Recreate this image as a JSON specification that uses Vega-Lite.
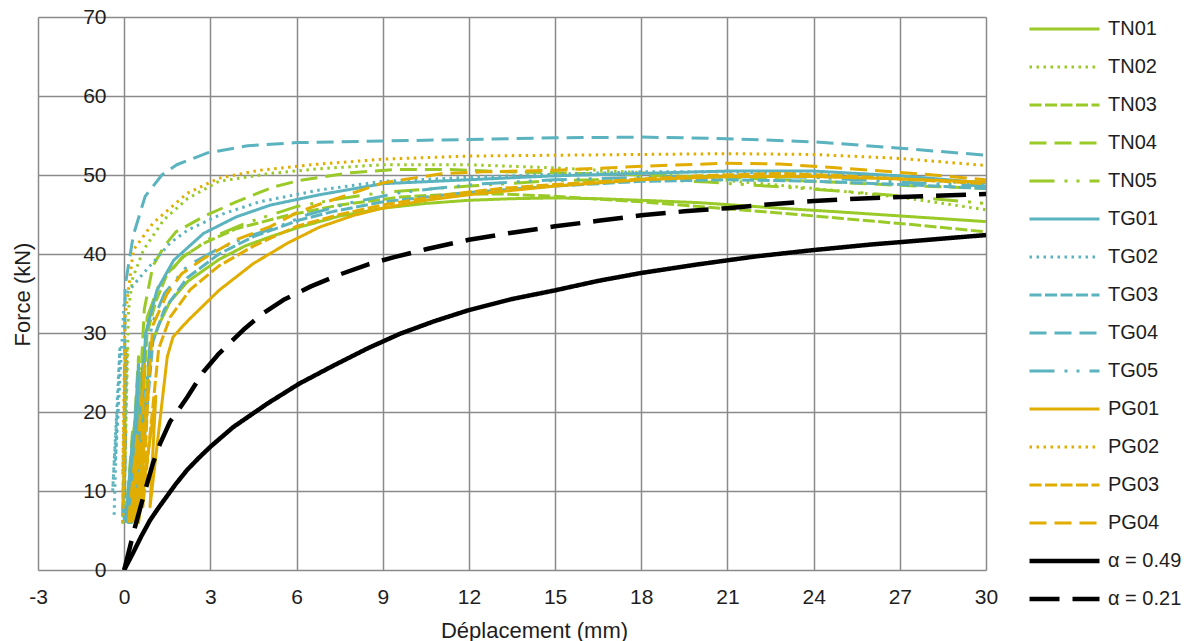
{
 "$schema": "https://vega.github.io/schema/vega-lite/v6.json",
 "width": 948, "height": 553,
 "autosize": {"type": "none"},
 "padding": {"left": 38, "top": 17, "right": 209, "bottom": 71},
 "background": "white",
 "config": {"view": {"stroke": null}, "font": "Liberation Sans"},
 "data": {"values": [
{"s":"TN01","i":0,"x":0.1,"y":6},{"s":"TN01","i":1,"x":0.4,"y":16},{"s":"TN01","i":2,"x":0.25,"y":6},{"s":"TN01","i":3,"x":0.6,"y":24},{"s":"TN01","i":4,"x":0.45,"y":7},{"s":"TN01","i":5,"x":0.9,"y":28},{"s":"TN01","i":6,"x":1.2,"y":31},{"s":"TN01","i":7,"x":1.6,"y":34},{"s":"TN01","i":8,"x":2.2,"y":36.5},{"s":"TN01","i":9,"x":3.3,"y":39.3},{"s":"TN01","i":10,"x":4.2,"y":41},{"s":"TN01","i":11,"x":5.1,"y":42.2},{"s":"TN01","i":12,"x":6.1,"y":43.4},{"s":"TN01","i":13,"x":7.5,"y":44.8},{"s":"TN01","i":14,"x":9,"y":45.8},{"s":"TN01","i":15,"x":10.5,"y":46.4},{"s":"TN01","i":16,"x":12,"y":46.8},{"s":"TN01","i":17,"x":13.5,"y":47},{"s":"TN01","i":18,"x":15,"y":47.1},{"s":"TN01","i":19,"x":16.5,"y":47},{"s":"TN01","i":20,"x":18,"y":46.8},{"s":"TN01","i":21,"x":20,"y":46.5},{"s":"TN01","i":22,"x":22.8,"y":45.8},{"s":"TN01","i":23,"x":25,"y":45.3},{"s":"TN01","i":24,"x":27.5,"y":44.7},{"s":"TN01","i":25,"x":30,"y":44.1},
{"s":"TN02","i":0,"x":-0.05,"y":6},{"s":"TN02","i":1,"x":0.05,"y":18},{"s":"TN02","i":2,"x":-0.05,"y":6},{"s":"TN02","i":3,"x":0.1,"y":28},{"s":"TN02","i":4,"x":0,"y":8},{"s":"TN02","i":5,"x":0.15,"y":33},{"s":"TN02","i":6,"x":0.3,"y":37},{"s":"TN02","i":7,"x":0.67,"y":40.5},{"s":"TN02","i":8,"x":1.37,"y":44.3},{"s":"TN02","i":9,"x":2.2,"y":47},{"s":"TN02","i":10,"x":3.3,"y":49.2},{"s":"TN02","i":11,"x":5.1,"y":50.2},{"s":"TN02","i":12,"x":6.8,"y":50.8},{"s":"TN02","i":13,"x":9,"y":51.3},{"s":"TN02","i":14,"x":12,"y":51.3},{"s":"TN02","i":15,"x":15,"y":50.9},{"s":"TN02","i":16,"x":18,"y":50.3},{"s":"TN02","i":17,"x":21,"y":49.3},{"s":"TN02","i":18,"x":24,"y":48.3},{"s":"TN02","i":19,"x":27,"y":47.2},{"s":"TN02","i":20,"x":30,"y":45.6},
{"s":"TN03","i":0,"x":0.1,"y":6},{"s":"TN03","i":1,"x":0.35,"y":17},{"s":"TN03","i":2,"x":0.2,"y":6},{"s":"TN03","i":3,"x":0.55,"y":25},{"s":"TN03","i":4,"x":0.4,"y":7},{"s":"TN03","i":5,"x":0.8,"y":30},{"s":"TN03","i":6,"x":1.1,"y":34},{"s":"TN03","i":7,"x":1.5,"y":37.5},{"s":"TN03","i":8,"x":2.1,"y":39.8},{"s":"TN03","i":9,"x":2.8,"y":41.4},{"s":"TN03","i":10,"x":3.9,"y":43.2},{"s":"TN03","i":11,"x":5.7,"y":44.9},{"s":"TN03","i":12,"x":7.5,"y":46.2},{"s":"TN03","i":13,"x":9.6,"y":47.2},{"s":"TN03","i":14,"x":11.5,"y":47.6},{"s":"TN03","i":15,"x":13.1,"y":47.6},{"s":"TN03","i":16,"x":15,"y":47.3},{"s":"TN03","i":17,"x":18,"y":46.6},{"s":"TN03","i":18,"x":20,"y":46},{"s":"TN03","i":19,"x":22.8,"y":45.2},{"s":"TN03","i":20,"x":25,"y":44.5},{"s":"TN03","i":21,"x":27.5,"y":43.7},{"s":"TN03","i":22,"x":30,"y":42.8},
{"s":"TN04","i":0,"x":0.05,"y":6},{"s":"TN04","i":1,"x":0.3,"y":18},{"s":"TN04","i":2,"x":0.15,"y":6},{"s":"TN04","i":3,"x":0.5,"y":27},{"s":"TN04","i":4,"x":0.35,"y":8},{"s":"TN04","i":5,"x":0.7,"y":33},{"s":"TN04","i":6,"x":1,"y":38.5},{"s":"TN04","i":7,"x":1.4,"y":41},{"s":"TN04","i":8,"x":1.8,"y":42.8},{"s":"TN04","i":9,"x":2.8,"y":44.8},{"s":"TN04","i":10,"x":3.9,"y":46.6},{"s":"TN04","i":11,"x":5.2,"y":48.5},{"s":"TN04","i":12,"x":6.1,"y":49.3},{"s":"TN04","i":13,"x":7.9,"y":50.3},{"s":"TN04","i":14,"x":9.4,"y":50.7},{"s":"TN04","i":15,"x":11.3,"y":50.7},{"s":"TN04","i":16,"x":13.3,"y":50.4},{"s":"TN04","i":17,"x":15,"y":50.3},{"s":"TN04","i":18,"x":18,"y":50},{"s":"TN04","i":19,"x":21,"y":49.7},{"s":"TN04","i":20,"x":24,"y":49.2},{"s":"TN04","i":21,"x":27,"y":48.7},{"s":"TN04","i":22,"x":30,"y":48.3},
{"s":"TN05","i":0,"x":0.1,"y":6},{"s":"TN05","i":1,"x":0.35,"y":18},{"s":"TN05","i":2,"x":0.2,"y":7},{"s":"TN05","i":3,"x":0.55,"y":26},{"s":"TN05","i":4,"x":0.4,"y":8},{"s":"TN05","i":5,"x":0.8,"y":32},{"s":"TN05","i":6,"x":1.2,"y":36},{"s":"TN05","i":7,"x":2,"y":39.5},{"s":"TN05","i":8,"x":3,"y":42},{"s":"TN05","i":9,"x":4.3,"y":44},{"s":"TN05","i":10,"x":6,"y":46},{"s":"TN05","i":11,"x":7.5,"y":47},{"s":"TN05","i":12,"x":9,"y":47.8},{"s":"TN05","i":13,"x":12,"y":48.6},{"s":"TN05","i":14,"x":15,"y":49.3},{"s":"TN05","i":15,"x":18,"y":49.5},{"s":"TN05","i":16,"x":20.3,"y":49.1},{"s":"TN05","i":17,"x":22.8,"y":48.5},{"s":"TN05","i":18,"x":25.2,"y":47.9},{"s":"TN05","i":19,"x":27.5,"y":47.2},{"s":"TN05","i":20,"x":30,"y":46.4},
{"s":"TG01","i":0,"x":0.05,"y":6},{"s":"TG01","i":1,"x":0.3,"y":17},{"s":"TG01","i":2,"x":0.15,"y":6},{"s":"TG01","i":3,"x":0.5,"y":26},{"s":"TG01","i":4,"x":0.35,"y":7},{"s":"TG01","i":5,"x":0.75,"y":30},{"s":"TG01","i":6,"x":1.14,"y":35.4},{"s":"TG01","i":7,"x":1.72,"y":39.2},{"s":"TG01","i":8,"x":2.76,"y":42.6},{"s":"TG01","i":9,"x":3.9,"y":44.7},{"s":"TG01","i":10,"x":5.1,"y":46.2},{"s":"TG01","i":11,"x":6.8,"y":47.5},{"s":"TG01","i":12,"x":9,"y":48.9},{"s":"TG01","i":13,"x":12,"y":49.4},{"s":"TG01","i":14,"x":15,"y":49.9},{"s":"TG01","i":15,"x":18,"y":50.2},{"s":"TG01","i":16,"x":21,"y":50.5},{"s":"TG01","i":17,"x":24,"y":50.5},{"s":"TG01","i":18,"x":27,"y":49.9},{"s":"TG01","i":19,"x":30,"y":49},
{"s":"TG02","i":0,"x":-0.35,"y":7},{"s":"TG02","i":1,"x":-0.25,"y":20},{"s":"TG02","i":2,"x":-0.4,"y":10},{"s":"TG02","i":3,"x":-0.15,"y":28},{"s":"TG02","i":4,"x":-0.3,"y":14},{"s":"TG02","i":5,"x":0,"y":34},{"s":"TG02","i":6,"x":0.09,"y":35},{"s":"TG02","i":7,"x":0.56,"y":37.1},{"s":"TG02","i":8,"x":1.6,"y":41.4},{"s":"TG02","i":9,"x":2.2,"y":43},{"s":"TG02","i":10,"x":3.3,"y":44.9},{"s":"TG02","i":11,"x":4.7,"y":46.6},{"s":"TG02","i":12,"x":6.8,"y":48.1},{"s":"TG02","i":13,"x":9,"y":49.2},{"s":"TG02","i":14,"x":12,"y":49.7},{"s":"TG02","i":15,"x":15,"y":50.1},{"s":"TG02","i":16,"x":18,"y":50.4},{"s":"TG02","i":17,"x":21,"y":50.4},{"s":"TG02","i":18,"x":24,"y":50.1},{"s":"TG02","i":19,"x":27,"y":49.6},{"s":"TG02","i":20,"x":30,"y":48.8},
{"s":"TG03","i":0,"x":0.1,"y":6},{"s":"TG03","i":1,"x":0.4,"y":16},{"s":"TG03","i":2,"x":0.25,"y":6},{"s":"TG03","i":3,"x":0.7,"y":25},{"s":"TG03","i":4,"x":0.5,"y":8},{"s":"TG03","i":5,"x":1,"y":29},{"s":"TG03","i":6,"x":1.4,"y":33},{"s":"TG03","i":7,"x":2.2,"y":37},{"s":"TG03","i":8,"x":3.3,"y":40},{"s":"TG03","i":9,"x":4.5,"y":42.2},{"s":"TG03","i":10,"x":6.1,"y":44.3},{"s":"TG03","i":11,"x":7.3,"y":45.4},{"s":"TG03","i":12,"x":9,"y":46.6},{"s":"TG03","i":13,"x":12,"y":47.8},{"s":"TG03","i":14,"x":15,"y":48.6},{"s":"TG03","i":15,"x":18,"y":49.2},{"s":"TG03","i":16,"x":21,"y":49.4},{"s":"TG03","i":17,"x":24,"y":49.2},{"s":"TG03","i":18,"x":27,"y":48.8},{"s":"TG03","i":19,"x":30,"y":48.3},
{"s":"TG04","i":0,"x":0,"y":6},{"s":"TG04","i":1,"x":0.05,"y":18},{"s":"TG04","i":2,"x":-0.05,"y":7},{"s":"TG04","i":3,"x":0.05,"y":28},{"s":"TG04","i":4,"x":0,"y":10},{"s":"TG04","i":5,"x":0.03,"y":35.9},{"s":"TG04","i":6,"x":0.32,"y":42.4},{"s":"TG04","i":7,"x":0.73,"y":47.3},{"s":"TG04","i":8,"x":1.31,"y":50},{"s":"TG04","i":9,"x":1.83,"y":51.3},{"s":"TG04","i":10,"x":2.9,"y":52.8},{"s":"TG04","i":11,"x":4.3,"y":53.7},{"s":"TG04","i":12,"x":6,"y":54.1},{"s":"TG04","i":13,"x":9,"y":54.3},{"s":"TG04","i":14,"x":12,"y":54.5},{"s":"TG04","i":15,"x":15,"y":54.7},{"s":"TG04","i":16,"x":18,"y":54.8},{"s":"TG04","i":17,"x":21,"y":54.6},{"s":"TG04","i":18,"x":24,"y":54.2},{"s":"TG04","i":19,"x":27,"y":53.4},{"s":"TG04","i":20,"x":30,"y":52.5},
{"s":"TG05","i":0,"x":0.1,"y":6},{"s":"TG05","i":1,"x":0.4,"y":17},{"s":"TG05","i":2,"x":0.25,"y":7},{"s":"TG05","i":3,"x":0.65,"y":26},{"s":"TG05","i":4,"x":0.45,"y":8},{"s":"TG05","i":5,"x":0.95,"y":31},{"s":"TG05","i":6,"x":1.4,"y":35},{"s":"TG05","i":7,"x":2.2,"y":38.5},{"s":"TG05","i":8,"x":3.2,"y":40.5},{"s":"TG05","i":9,"x":4.3,"y":42.2},{"s":"TG05","i":10,"x":5.4,"y":43.5},{"s":"TG05","i":11,"x":6.4,"y":45},{"s":"TG05","i":12,"x":7.9,"y":46.5},{"s":"TG05","i":13,"x":9.5,"y":47.7},{"s":"TG05","i":14,"x":10.8,"y":48.3},{"s":"TG05","i":15,"x":12.5,"y":48.9},{"s":"TG05","i":16,"x":15,"y":49.4},{"s":"TG05","i":17,"x":18,"y":49.7},{"s":"TG05","i":18,"x":21,"y":49.9},{"s":"TG05","i":19,"x":24,"y":49.7},{"s":"TG05","i":20,"x":27,"y":49.1},{"s":"TG05","i":21,"x":30,"y":48.6},
{"s":"PG01","i":0,"x":0.3,"y":6},{"s":"PG01","i":1,"x":0.7,"y":15},{"s":"PG01","i":2,"x":0.5,"y":6},{"s":"PG01","i":3,"x":1.1,"y":22},{"s":"PG01","i":4,"x":0.9,"y":8},{"s":"PG01","i":5,"x":1.5,"y":27},{"s":"PG01","i":6,"x":1.7,"y":29.5},{"s":"PG01","i":7,"x":2.2,"y":31.5},{"s":"PG01","i":8,"x":3.3,"y":35.4},{"s":"PG01","i":9,"x":4.5,"y":38.8},{"s":"PG01","i":10,"x":5.7,"y":41.4},{"s":"PG01","i":11,"x":6.8,"y":43.4},{"s":"PG01","i":12,"x":8,"y":44.9},{"s":"PG01","i":13,"x":9,"y":45.8},{"s":"PG01","i":14,"x":10.5,"y":46.8},{"s":"PG01","i":15,"x":12,"y":47.5},{"s":"PG01","i":16,"x":15,"y":48.6},{"s":"PG01","i":17,"x":18,"y":49.4},{"s":"PG01","i":18,"x":21,"y":49.8},{"s":"PG01","i":19,"x":24,"y":49.8},{"s":"PG01","i":20,"x":27,"y":49.5},{"s":"PG01","i":21,"x":30,"y":49.1},
{"s":"PG02","i":0,"x":-0.05,"y":6},{"s":"PG02","i":1,"x":0.05,"y":18},{"s":"PG02","i":2,"x":-0.05,"y":8},{"s":"PG02","i":3,"x":0.05,"y":28},{"s":"PG02","i":4,"x":-0.05,"y":12},{"s":"PG02","i":5,"x":0.03,"y":32},{"s":"PG02","i":6,"x":0.32,"y":40.5},{"s":"PG02","i":7,"x":1,"y":43.9},{"s":"PG02","i":8,"x":2.2,"y":47.7},{"s":"PG02","i":9,"x":3.3,"y":49.6},{"s":"PG02","i":10,"x":4.7,"y":50.6},{"s":"PG02","i":11,"x":6.5,"y":51.3},{"s":"PG02","i":12,"x":9,"y":52},{"s":"PG02","i":13,"x":12,"y":52.4},{"s":"PG02","i":14,"x":15,"y":52.5},{"s":"PG02","i":15,"x":18,"y":52.6},{"s":"PG02","i":16,"x":21,"y":52.7},{"s":"PG02","i":17,"x":24,"y":52.6},{"s":"PG02","i":18,"x":27,"y":52.1},{"s":"PG02","i":19,"x":30,"y":51.2},
{"s":"PG03","i":0,"x":0.2,"y":6},{"s":"PG03","i":1,"x":0.55,"y":16},{"s":"PG03","i":2,"x":0.4,"y":6},{"s":"PG03","i":3,"x":0.85,"y":24},{"s":"PG03","i":4,"x":0.65,"y":8},{"s":"PG03","i":5,"x":1.2,"y":28},{"s":"PG03","i":6,"x":1.6,"y":32},{"s":"PG03","i":7,"x":2.3,"y":35.5},{"s":"PG03","i":8,"x":3.3,"y":38.5},{"s":"PG03","i":9,"x":4.5,"y":41},{"s":"PG03","i":10,"x":6,"y":43.5},{"s":"PG03","i":11,"x":7.5,"y":45},{"s":"PG03","i":12,"x":9,"y":46.2},{"s":"PG03","i":13,"x":11,"y":47.4},{"s":"PG03","i":14,"x":13.1,"y":48.3},{"s":"PG03","i":15,"x":15,"y":48.8},{"s":"PG03","i":16,"x":18,"y":49.5},{"s":"PG03","i":17,"x":20,"y":49.9},{"s":"PG03","i":18,"x":22.8,"y":50.2},{"s":"PG03","i":19,"x":25,"y":49.9},{"s":"PG03","i":20,"x":27.5,"y":49.4},{"s":"PG03","i":21,"x":30,"y":48.9},
{"s":"PG04","i":0,"x":0.15,"y":6},{"s":"PG04","i":1,"x":0.45,"y":17},{"s":"PG04","i":2,"x":0.3,"y":7},{"s":"PG04","i":3,"x":0.7,"y":26},{"s":"PG04","i":4,"x":0.55,"y":9},{"s":"PG04","i":5,"x":1,"y":31},{"s":"PG04","i":6,"x":1.5,"y":35},{"s":"PG04","i":7,"x":2,"y":37.5},{"s":"PG04","i":8,"x":2.8,"y":39.5},{"s":"PG04","i":9,"x":3.9,"y":41.8},{"s":"PG04","i":10,"x":5.1,"y":43.5},{"s":"PG04","i":11,"x":6,"y":45.2},{"s":"PG04","i":12,"x":6.8,"y":46.3},{"s":"PG04","i":13,"x":7.3,"y":46.9},{"s":"PG04","i":14,"x":9,"y":49},{"s":"PG04","i":15,"x":11.1,"y":50.2},{"s":"PG04","i":16,"x":12.5,"y":50.4},{"s":"PG04","i":17,"x":15,"y":50.6},{"s":"PG04","i":18,"x":18,"y":51.1},{"s":"PG04","i":19,"x":21,"y":51.5},{"s":"PG04","i":20,"x":22.8,"y":51.4},{"s":"PG04","i":21,"x":25.2,"y":50.8},{"s":"PG04","i":22,"x":27.5,"y":50.2},{"s":"PG04","i":23,"x":30,"y":49.4},
{"s":"\u00a0α = 0.49","i":0,"x":0,"y":0},{"s":"\u00a0α = 0.49","i":1,"x":0.3,"y":2.1},{"s":"\u00a0α = 0.49","i":2,"x":0.6,"y":4.3},{"s":"\u00a0α = 0.49","i":3,"x":0.9,"y":6.3},{"s":"\u00a0α = 0.49","i":4,"x":1.2,"y":7.9},{"s":"\u00a0α = 0.49","i":5,"x":1.5,"y":9.4},{"s":"\u00a0α = 0.49","i":6,"x":1.8,"y":10.9},{"s":"\u00a0α = 0.49","i":7,"x":2.2,"y":12.7},{"s":"\u00a0α = 0.49","i":8,"x":2.6,"y":14.2},{"s":"\u00a0α = 0.49","i":9,"x":3,"y":15.6},{"s":"\u00a0α = 0.49","i":10,"x":3.8,"y":18.1},{"s":"\u00a0α = 0.49","i":11,"x":5,"y":21.1},{"s":"\u00a0α = 0.49","i":12,"x":6.1,"y":23.6},{"s":"\u00a0α = 0.49","i":13,"x":7.3,"y":25.9},{"s":"\u00a0α = 0.49","i":14,"x":8.5,"y":28.1},{"s":"\u00a0α = 0.49","i":15,"x":9.6,"y":29.9},{"s":"\u00a0α = 0.49","i":16,"x":10.8,"y":31.5},{"s":"\u00a0α = 0.49","i":17,"x":12,"y":32.9},{"s":"\u00a0α = 0.49","i":18,"x":13.5,"y":34.3},{"s":"\u00a0α = 0.49","i":19,"x":15,"y":35.4},{"s":"\u00a0α = 0.49","i":20,"x":16.5,"y":36.6},{"s":"\u00a0α = 0.49","i":21,"x":18,"y":37.6},{"s":"\u00a0α = 0.49","i":22,"x":20,"y":38.7},{"s":"\u00a0α = 0.49","i":23,"x":22,"y":39.7},{"s":"\u00a0α = 0.49","i":24,"x":24,"y":40.5},{"s":"\u00a0α = 0.49","i":25,"x":26,"y":41.2},{"s":"\u00a0α = 0.49","i":26,"x":28,"y":41.8},{"s":"\u00a0α = 0.49","i":27,"x":30,"y":42.4},
{"s":"\u00a0α = 0.21","i":0,"x":0,"y":0},{"s":"\u00a0α = 0.21","i":1,"x":0.38,"y":5.5},{"s":"\u00a0α = 0.21","i":2,"x":0.67,"y":9.3},{"s":"\u00a0α = 0.21","i":3,"x":1,"y":13.5},{"s":"\u00a0α = 0.21","i":4,"x":1.25,"y":16},{"s":"\u00a0α = 0.21","i":5,"x":1.6,"y":18.8},{"s":"\u00a0α = 0.21","i":6,"x":1.9,"y":20.3},{"s":"\u00a0α = 0.21","i":7,"x":2.2,"y":21.9},{"s":"\u00a0α = 0.21","i":8,"x":2.76,"y":25.1},{"s":"\u00a0α = 0.21","i":9,"x":3.3,"y":27.4},{"s":"\u00a0α = 0.21","i":10,"x":4.15,"y":30.4},{"s":"\u00a0α = 0.21","i":11,"x":4.8,"y":32.4},{"s":"\u00a0α = 0.21","i":12,"x":5.55,"y":34.2},{"s":"\u00a0α = 0.21","i":13,"x":6.5,"y":35.9},{"s":"\u00a0α = 0.21","i":14,"x":7.5,"y":37.4},{"s":"\u00a0α = 0.21","i":15,"x":8.5,"y":38.7},{"s":"\u00a0α = 0.21","i":16,"x":9.4,"y":39.6},{"s":"\u00a0α = 0.21","i":17,"x":10.5,"y":40.6},{"s":"\u00a0α = 0.21","i":18,"x":12,"y":41.8},{"s":"\u00a0α = 0.21","i":19,"x":13.5,"y":42.7},{"s":"\u00a0α = 0.21","i":20,"x":15,"y":43.5},{"s":"\u00a0α = 0.21","i":21,"x":16.5,"y":44.2},{"s":"\u00a0α = 0.21","i":22,"x":18,"y":44.9},{"s":"\u00a0α = 0.21","i":23,"x":19.5,"y":45.4},{"s":"\u00a0α = 0.21","i":24,"x":21,"y":45.8},{"s":"\u00a0α = 0.21","i":25,"x":22.5,"y":46.3},{"s":"\u00a0α = 0.21","i":26,"x":24,"y":46.7},{"s":"\u00a0α = 0.21","i":27,"x":25.5,"y":47},{"s":"\u00a0α = 0.21","i":28,"x":27,"y":47.2},{"s":"\u00a0α = 0.21","i":29,"x":28.5,"y":47.4},{"s":"\u00a0α = 0.21","i":30,"x":30,"y":47.6}
 ]},
 "mark": {"type": "line", "strokeCap": "butt", "strokeJoin": "round", "clip": true},
 "encoding": {
  "x": {"field": "x", "type": "quantitative",
   "scale": {"domain": [-3, 30], "nice": false, "zero": false},
   "axis": {"values": [-3,0,3,6,9,12,15,18,21,24,27,30], "labelExpr": "datum.value + ''", "title": "Déplacement (mm)", "grid": true, "gridColor": "#8a8a8a", "gridWidth": 1.5,
    "domain": false, "ticks": false, "tickSize": 0, "labelFontSize": 21, "labelPadding": 16, "labelFlush": false, "labelColor": "#1e1e1e",
    "titleFontSize": 22, "titleFontWeight": "normal", "titleColor": "#1e1e1e", "titleX": 496, "titleY": 60, "titleBaseline": "middle", "titleAlign": "center", "titleAnchor": null}},
  "y": {"field": "y", "type": "quantitative",
   "scale": {"domain": [0, 70], "nice": false},
   "axis": {"values": [0,10,20,30,40,50,60,70], "title": "Force (kN)", "offset": -86, "grid": true, "gridColor": "#8a8a8a", "gridWidth": 1.5,
    "domain": false, "ticks": false, "tickSize": 0, "labelFontSize": 21, "labelPadding": 18, "labelColor": "#1e1e1e",
    "titleFontSize": 22, "titleFontWeight": "normal", "titleColor": "#1e1e1e", "titleX": -102, "titleY": 277, "titleAngle": -90, "titleBaseline": "middle", "titleAlign": "center"}},
  "color": {"field": "s", "type": "nominal",
   "scale": {"domain": ["TN01","TN02","TN03","TN04","TN05","TG01","TG02","TG03","TG04","TG05","PG01","PG02","PG03","PG04","\u00a0α = 0.49","\u00a0α = 0.21"],
    "range": ["#9ACA27","#9ACA27","#9ACA27","#9ACA27","#9ACA27","#5AB3BE","#5AB3BE","#5AB3BE","#5AB3BE","#5AB3BE","#E1AD01","#E1AD01","#E1AD01","#E1AD01","#000000","#000000"]},
   "legend": {"title": null, "orient": "none", "legendX": 989, "legendY": 2, "padding": 0, "symbolType": "stroke", "symbolSize": 4900,
    "labelFontSize": 20, "labelOffset": 6, "labelColor": "#1e1e1e", "clipHeight": 20, "rowPadding": 18, "labelLimit": 200}},
  "strokeDash": {"field": "s", "type": "nominal",
   "scale": {"domain": ["TN01","TN02","TN03","TN04","TN05","TG01","TG02","TG03","TG04","TG05","PG01","PG02","PG03","PG04","\u00a0α = 0.49","\u00a0α = 0.21"],
    "range": [[1,0],[2.5,4.5],[12,3.5],[17,8],[25,10,3,9,3,10],[1,0],[2.5,4.5],[12,3.5],[17,8],[25,10,3,9,3,10],[1,0],[2.5,4.5],[12,3.5],[17,8],[1,0],[30,13]]}},
  "strokeWidth": {"field": "s", "type": "nominal",
   "scale": {"type": "ordinal", "domain": ["TN01","TN02","TN03","TN04","TN05","TG01","TG02","TG03","TG04","TG05","PG01","PG02","PG03","PG04","\u00a0α = 0.49","\u00a0α = 0.21"],
    "range": [3,3,3,3,3,3,3,3,3,3,3,3,3,3,4.5,4.5]}},
  "order": {"field": "i", "type": "quantitative"}
 }
}
